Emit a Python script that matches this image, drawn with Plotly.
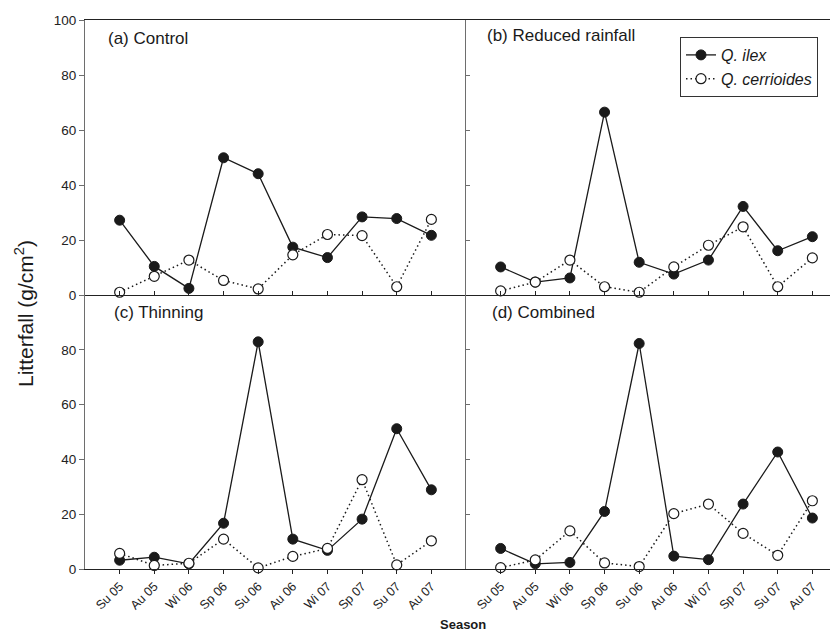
import plotly.graph_objects as go
from plotly.subplots import make_subplots

seasons = ["Su 05", "Au 05", "Wi 06", "Sp 06", "Su 06", "Au 06", "Wi 07", "Sp 07", "Su 07", "Au 07"]
season_pos = [1, 2, 3, 4, 5, 6, 7, 8, 9, 10]

panel_titles = ["(a) Control", "(b) Reduced rainfall", "(c) Thinning", "(d) Combined"]

ilex_control = [27.2, 10.4, 2.4, 49.9, 44.1, 17.4, 13.6, 28.4, 27.8, 21.7]
cerr_control = [1.0, 6.8, 12.7, 5.3, 2.2, 14.6, 22.0, 21.6, 3.0, 27.5]

ilex_reduced = [10.2, 4.7, 6.2, 66.5, 11.9, 7.6, 12.7, 32.2, 16.1, 21.2]
cerr_reduced = [1.5, 4.7, 12.7, 3.0, 1.0, 10.2, 18.1, 24.8, 3.0, 13.5]

ilex_thinning = [3.2, 4.3, 1.9, 16.7, 82.9, 10.9, 6.8, 18.2, 51.2, 28.9]
cerr_thinning = [5.7, 1.3, 2.1, 10.9, 0.4, 4.6, 7.5, 32.6, 1.5, 10.3]

ilex_combined = [7.5, 1.9, 2.4, 21.0, 82.3, 4.7, 3.4, 23.7, 42.7, 18.6]
cerr_combined = [0.5, 3.3, 13.9, 2.2, 0.9, 20.2, 23.7, 13.0, 5.0, 24.9]

y_ticks_top = [0, 20, 40, 60, 80, 100]
y_ticks_bottom = [0, 20, 40, 60, 80]

FONT = "Arial, Liberation Sans, sans-serif"
OFF = 8  # default page body margin
RIGHT_EDGE = 846  # right panel continues past the visible window edge
W, H = RIGHT_EDGE - OFF, 633 - OFF
ML, MT, MB = 85 - OFF, 20 - OFF, 64
MR = 0
PW, PH = W - ML - MR, H - MT - MB

fig = make_subplots(rows=2, cols=2, horizontal_spacing=0, vertical_spacing=0)

panels = [
    (1, 1, ilex_control, cerr_control),
    (1, 2, ilex_reduced, cerr_reduced),
    (2, 1, ilex_thinning, cerr_thinning),
    (2, 2, ilex_combined, cerr_combined),
]

for i, (r, c, ilex, cerr) in enumerate(panels):
    fig.add_trace(go.Scatter(
        x=season_pos, y=ilex, mode="lines+markers", name="<i>Q. ilex</i>",
        line=dict(color="#1a1a1a", width=1.3),
        marker=dict(symbol="circle", size=10, color="#1a1a1a", line=dict(color="#1a1a1a", width=1)),
        cliponaxis=False, showlegend=(i == 0), legendgroup="ilex"), row=r, col=c)
    fig.add_trace(go.Scatter(
        x=season_pos, y=cerr, mode="lines+markers", name="<i>Q. cerrioides</i>",
        line=dict(color="#1a1a1a", width=1.5, dash="1.5px,3px"),
        marker=dict(symbol="circle", size=10, color="white", line=dict(color="#1a1a1a", width=1.2)),
        cliponaxis=False, showlegend=(i == 0), legendgroup="cerr"), row=r, col=c)

# page-pixel helpers (page coords include the body margin)
def px(x):
    return (x - OFF - ML) / PW

def py(y):
    return (H - MB - (y - OFF)) / PH

split_x = px(466)
split_y = py(295)

dom = {
    (1, 1): ([0, split_x], [split_y, 1]),
    (1, 2): ([split_x, 1], [split_y, 1]),
    (2, 1): ([0, split_x], [0, split_y]),
    (2, 2): ([split_x, 1], [0, split_y]),
}
unit = (466 - 85) / 11.0
right_max = (RIGHT_EDGE - 466) / unit

axis_gray = "#6e6e6e"
for (r, c), (dx, dy) in dom.items():
    top = (r == 1)
    left = (c == 1)
    fig.update_xaxes(
        domain=dx, range=[0, 11 if left else right_max],
        tickmode="array", tickvals=season_pos, ticktext=seasons,
        showticklabels=not top, tickangle=-45,
        ticks="inside" if top else "outside", ticklen=4, tickcolor="#222",
        showline=True, linecolor="#222", linewidth=1.2,
        mirror=top, showgrid=False, zeroline=False,
        tickfont=dict(family=FONT, size=12.5, color="#222"),
        row=r, col=c)
    fig.update_yaxes(
        domain=dy, range=[0, 100],
        tickmode="array", tickvals=y_ticks_top if top else y_ticks_bottom,
        showticklabels=left,
        ticks="outside" if left else "inside", ticklen=5 if left else 4, tickcolor=axis_gray,
        showline=True, linecolor=axis_gray, linewidth=1.2,
        showgrid=False, zeroline=False,
        tickfont=dict(family=FONT, size=13.5, color="#222"),
        row=r, col=c)

annos = [
    (panel_titles[0], 106, 38),
    (panel_titles[1], 485, 36),
    (panel_titles[2], 112, 312),
    (panel_titles[3], 490, 312),
]
for text, x, y in annos:
    fig.add_annotation(text=text, x=px(x), y=py(y), xref="paper", yref="paper",
                       xanchor="left", yanchor="middle", showarrow=False,
                       font=dict(family=FONT, size=17, color="#1a1a1a"))

fig.add_annotation(text="Litterfall (g/cm<sup>2</sup>)", x=px(24), y=py(314),
                   xref="paper", yref="paper", textangle=-90, showarrow=False,
                   xanchor="center", yanchor="middle",
                   font=dict(family=FONT, size=21, color="#1a1a1a"))
fig.add_annotation(text="<b>Season</b>", x=px(463), y=py(624),
                   xref="paper", yref="paper", showarrow=False,
                   xanchor="center", yanchor="middle",
                   font=dict(family=FONT, size=13, color="#1a1a1a"))

fig.update_layout(
    width=W, height=H,
    margin=dict(l=ML, r=MR, t=MT, b=MB),
    paper_bgcolor="white", plot_bgcolor="white",
    font=dict(family=FONT, color="#1a1a1a"),
    legend=dict(x=px(680), y=py(37), xanchor="left", yanchor="top",
                bgcolor="white", bordercolor="#333", borderwidth=1,
                font=dict(family=FONT, size=16, color="#1a1a1a"),
                tracegroupgap=0, itemwidth=30),
)

fig.write_html("out.html")
